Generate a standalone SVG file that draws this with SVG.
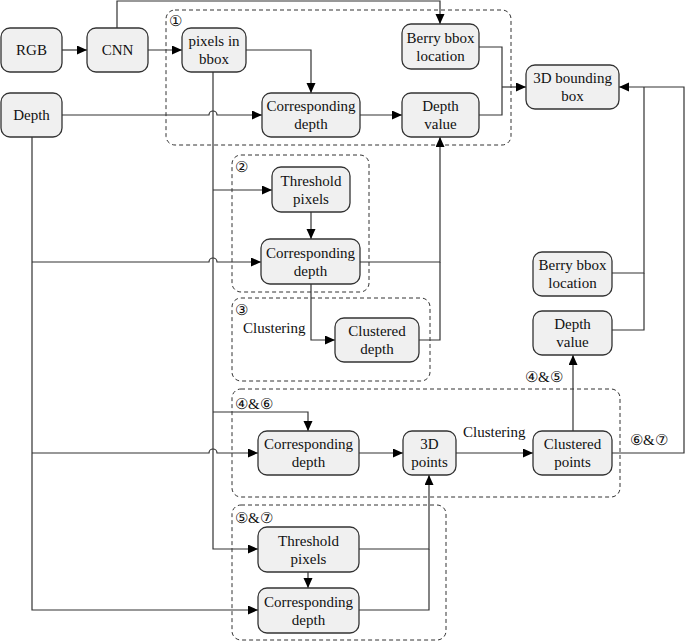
<svg xmlns="http://www.w3.org/2000/svg" width="685" height="641" viewBox="0 0 685 641" font-family="Liberation Serif">
<style>
text{font-family:'Liberation Serif',serif !important;font-size:15px;fill:#111}
.n rect{fill:#f0f0f0;stroke:#333;stroke-width:1.3}
.n text{text-anchor:middle}
.grp{fill:none;stroke:#333;stroke-width:1;stroke-dasharray:4 3}
.c path{fill:none;stroke:#333;stroke-width:1.2}
.c .a{marker-end:url(#ah)}
</style>
<defs>
<marker id="ah" markerUnits="userSpaceOnUse" markerWidth="11" markerHeight="10" refX="10" refY="4.5" orient="auto">
<path d="M0,0 L10,4.5 L0,9 z" fill="#000"/>
</marker>
</defs>
<rect width="685" height="641" fill="#fff"/>
<g id="groups">
<rect class="grp" x="166" y="10" width="345" height="135" rx="9"/>
<rect class="grp" x="232" y="155" width="137" height="137" rx="9"/>
<rect class="grp" x="232" y="298" width="198" height="83" rx="9"/>
<rect class="grp" x="232" y="389" width="388" height="108" rx="9"/>
<rect class="grp" x="232" y="505" width="214" height="135" rx="9"/>
<text font-family="Liberation Serif" x="169" y="26">①</text>
<text font-family="Liberation Serif" x="235" y="172">②</text>
<text font-family="Liberation Serif" x="235" y="315">③</text>
<text font-family="Liberation Serif" x="243" y="333">Clustering</text>
<text font-family="Liberation Serif" x="235" y="409">④&amp;⑥</text>
<text font-family="Liberation Serif" x="235" y="523">⑤&amp;⑦</text>
<text font-family="Liberation Serif" x="463" y="437">Clustering</text>
<text font-family="Liberation Serif" x="525" y="382">④&amp;⑤</text>
<text font-family="Liberation Serif" x="630" y="445">⑥&amp;⑦</text>
</g>
<g id="connectors" class="c">
<path class="a" d="M62 50 H87"/>
<path class="a" d="M148 50 H182"/>
<path class="a" d="M117 28 V1 H440 V24"/>
<path class="a" d="M246 50 H311 V93"/>
<path class="a" d="M62 115 H209 a4 4 0 0 1 8 0 H262"/>
<path class="a" d="M360 115 H402"/>
<path d="M479 47 H502 V115 H479"/>
<path class="a" d="M502 87 H526"/>
<path class="a" d="M213 72 V549 H258"/>
<path class="a" d="M213 190 H272"/>
<path class="a" d="M311 212 V239"/>
<path class="a" d="M32 137 V610 H258"/>
<path class="a" d="M32 262 H209 a4 4 0 0 1 8 0 H261"/>
<path class="a" d="M360 262 H440 V137"/>
<path class="a" d="M311 284 V340 H335"/>
<path d="M419 340 H440 V262"/>
<path class="a" d="M213 412 H308 V431"/>
<path class="a" d="M32 453 H209 a4 4 0 0 1 8 0 H258"/>
<path class="a" d="M359 453 H403"/>
<path class="a" d="M456 453 H533"/>
<path class="a" d="M573 431 V355"/>
<path class="a" d="M612 453 H684 V87 H619"/>
<path d="M612 273 H644 V87"/>
<path d="M612 330 H644 V273"/>
<path class="a" d="M308 572 V588"/>
<path class="a" d="M359 549 H429 V475"/>
<path d="M359 610 H429 V549"/>
</g>
<g id="n_rgb" class="n"><rect x="1" y="28" width="61" height="44" rx="9"/><text font-family="Liberation Serif" x="31.5" y="55">RGB</text></g>
<g id="n_cnn" class="n"><rect x="87" y="28" width="61" height="44" rx="9"/><text font-family="Liberation Serif" x="117.5" y="55">CNN</text></g>
<g id="n_pix" class="n"><rect x="182" y="28" width="64" height="44" rx="9"/><text font-family="Liberation Serif" x="214" y="46">pixels in</text><text font-family="Liberation Serif" x="214" y="64">bbox</text></g>
<g id="n_depth" class="n"><rect x="1" y="93" width="61" height="44" rx="9"/><text font-family="Liberation Serif" x="31.5" y="120">Depth</text></g>
<g id="n_berry1" class="n"><rect x="402" y="24" width="77" height="45" rx="9"/><text font-family="Liberation Serif" x="440.5" y="43">Berry bbox</text><text font-family="Liberation Serif" x="440.5" y="61">location</text></g>
<g id="n_cd1" class="n"><rect x="262" y="93" width="98" height="44" rx="9"/><text font-family="Liberation Serif" x="311" y="111">Corresponding</text><text font-family="Liberation Serif" x="311" y="129">depth</text></g>
<g id="n_dv1" class="n"><rect x="402" y="93" width="77" height="44" rx="9"/><text font-family="Liberation Serif" x="440.5" y="111">Depth</text><text font-family="Liberation Serif" x="440.5" y="129">value</text></g>
<g id="n_3dbb" class="n"><rect x="526" y="65" width="93" height="44" rx="9"/><text font-family="Liberation Serif" x="572.5" y="83">3D bounding</text><text font-family="Liberation Serif" x="572.5" y="101">box</text></g>
<g id="n_tp2" class="n"><rect x="272" y="167" width="78" height="45" rx="9"/><text font-family="Liberation Serif" x="311" y="186">Threshold</text><text font-family="Liberation Serif" x="311" y="204">pixels</text></g>
<g id="n_cd2" class="n"><rect x="261" y="239" width="99" height="45" rx="9"/><text font-family="Liberation Serif" x="310.5" y="258">Corresponding</text><text font-family="Liberation Serif" x="310.5" y="276">depth</text></g>
<g id="n_cld" class="n"><rect x="335" y="318" width="84" height="44" rx="9"/><text font-family="Liberation Serif" x="377" y="336">Clustered</text><text font-family="Liberation Serif" x="377" y="354">depth</text></g>
<g id="n_berry2" class="n"><rect x="533" y="252" width="79" height="44" rx="9"/><text font-family="Liberation Serif" x="572.5" y="270">Berry bbox</text><text font-family="Liberation Serif" x="572.5" y="288">location</text></g>
<g id="n_dv2" class="n"><rect x="533" y="311" width="79" height="44" rx="9"/><text font-family="Liberation Serif" x="572.5" y="329">Depth</text><text font-family="Liberation Serif" x="572.5" y="347">value</text></g>
<g id="n_cd4" class="n"><rect x="258" y="431" width="101" height="44" rx="9"/><text font-family="Liberation Serif" x="308.5" y="449">Corresponding</text><text font-family="Liberation Serif" x="308.5" y="467">depth</text></g>
<g id="n_3dp" class="n"><rect x="403" y="431" width="53" height="44" rx="9"/><text font-family="Liberation Serif" x="429.5" y="449">3D</text><text font-family="Liberation Serif" x="429.5" y="467">points</text></g>
<g id="n_clp" class="n"><rect x="533" y="431" width="79" height="44" rx="9"/><text font-family="Liberation Serif" x="572.5" y="449">Clustered</text><text font-family="Liberation Serif" x="572.5" y="467">points</text></g>
<g id="n_tp5" class="n"><rect x="258" y="527" width="101" height="45" rx="9"/><text font-family="Liberation Serif" x="308.5" y="546">Threshold</text><text font-family="Liberation Serif" x="308.5" y="564">pixels</text></g>
<g id="n_cd5" class="n"><rect x="258" y="588" width="101" height="45" rx="9"/><text font-family="Liberation Serif" x="308.5" y="607">Corresponding</text><text font-family="Liberation Serif" x="308.5" y="625">depth</text></g>
</svg>
